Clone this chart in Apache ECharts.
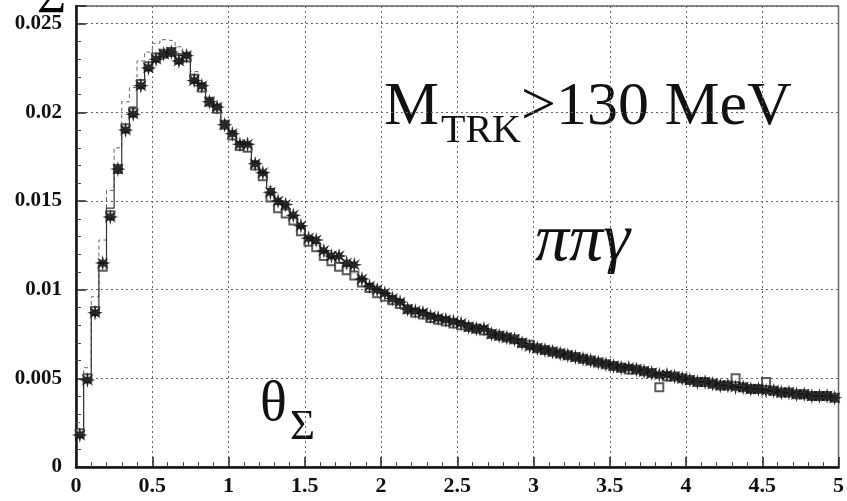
<!DOCTYPE html>
<html>
<head>
<meta charset="utf-8">
<script src="https://cdn.jsdelivr.net/npm/echarts@6/dist/echarts.min.js"></script>
<style>html,body{margin:0;padding:0;background:#fff;}#c{width:847px;height:501px;}</style>
</head>
<body>
<div id="c"></div>
<script>
// Histogram binning (x axis: 0..5, bins of 0.05)
const xMin = 0, xMax = 5, binWidth = 0.05;
const xTicks = ['0','0.5','1','1.5','2','2.5','3','3.5','4','4.5','5'];
const yTicks = ['0','0.005','0.01','0.015','0.02','0.025'];

// Data points (asterisk markers)
const dataPts = [
0.0018,0.0049,0.0087,0.0115,0.0141,0.0168,0.0190,0.0199,0.0215,0.0225,
0.0230,0.0233,0.0234,0.0229,0.0232,0.0218,0.0215,0.0206,0.0203,0.0193,
0.0188,0.0182,0.0182,0.0171,0.0166,0.0155,0.0150,0.0148,0.0142,0.0136,
0.0129,0.0128,0.0122,0.0119,0.0119,0.0115,0.0114,0.0106,0.0102,0.0100,
0.0098,0.0095,0.0093,0.0089,0.0088,0.0087,0.0085,0.0084,0.0083,0.0082,
0.0081,0.0079,0.0078,0.0078,0.0075,0.0074,0.0073,0.0072,0.0070,0.0068,
0.0067,0.0066,0.0065,0.0064,0.0063,0.0062,0.0061,0.0060,0.0059,0.0058,
0.0057,0.0056,0.0056,0.0055,0.0054,0.0053,0.0052,0.0052,0.0051,0.0050,
0.0049,0.0048,0.0048,0.0047,0.0046,0.0046,0.0045,0.0045,0.0044,0.0044,
0.0043,0.0043,0.0042,0.0042,0.0041,0.0041,0.0040,0.0040,0.0040,0.0039];

// Second sample (open squares)
const squarePts = [
0.0019,0.0050,0.0088,0.0113,0.0142,0.0168,0.0191,0.0200,0.0216,0.0226,
0.0231,0.0233,0.0234,0.0230,0.0231,0.0219,0.0214,0.0206,0.0202,0.0193,
0.0187,0.0181,0.0180,0.0170,0.0164,0.0152,0.0146,0.0143,0.0139,0.0133,
0.0127,0.0124,0.0119,0.0116,0.0113,0.0111,0.0108,0.0104,0.0101,0.0098,
0.0096,0.0094,0.0092,0.0089,0.0087,0.0086,0.0084,0.0083,0.0082,0.0081,
0.0080,0.0079,0.0078,0.0077,0.0075,0.0074,0.0073,0.0072,0.0070,0.0069,
0.0067,0.0066,0.0065,0.0064,0.0063,0.0062,0.0061,0.0060,0.0059,0.0058,
0.0057,0.0056,0.0055,0.0055,0.0054,0.0053,0.0045,0.0051,0.0051,0.0050,
0.0049,0.0048,0.0048,0.0047,0.0046,0.0046,0.0050,0.0045,0.0044,0.0044,
0.0048,0.0043,0.0042,0.0042,0.0041,0.0041,0.0040,0.0040,0.0040,0.0039];

// Simulation 1 (solid histogram)
const mcSolid = [
0.0020,0.0050,0.0088,0.0113,0.0146,0.0168,0.0192,0.0203,0.0218,0.0227,
0.0232,0.0234,0.0235,0.0233,0.0229,0.0221,0.0214,0.0207,0.0201,0.0194,
0.0188,0.0183,0.0178,0.0172,0.0165,0.0157,0.0150,0.0146,0.0140,0.0135,
0.0129,0.0125,0.0121,0.0118,0.0115,0.0112,0.0109,0.0105,0.0102,0.0099,
0.0097,0.0094,0.0092,0.0090,0.0088,0.0086,0.0084,0.0083,0.0082,0.0080,
0.0080,0.0079,0.0078,0.0077,0.0075,0.0074,0.0073,0.0072,0.0070,0.0069,
0.0067,0.0066,0.0065,0.0064,0.0063,0.0062,0.0061,0.0060,0.0059,0.0058,
0.0057,0.0056,0.0055,0.0055,0.0054,0.0053,0.0052,0.0051,0.0051,0.0050,
0.0049,0.0048,0.0048,0.0047,0.0046,0.0046,0.0045,0.0045,0.0044,0.0044,
0.0043,0.0043,0.0042,0.0042,0.0041,0.0041,0.0040,0.0040,0.0040,0.0039];

// Simulation 2 (dashed histogram)
const mcDashed = [
0.0025,0.0056,0.0096,0.0128,0.0156,0.0180,0.0206,0.0214,0.0229,0.0234,
0.0239,0.0241,0.0240,0.0237,0.0234,0.0223,0.0216,0.0208,0.0202,0.0195,
0.0189,0.0183,0.0178,0.0172,0.0166,0.0158,0.0151,0.0147,0.0141,0.0136,
0.0130,0.0126,0.0122,0.0118,0.0115,0.0112,0.0109,0.0106,0.0102,0.0100,
0.0097,0.0095,0.0093,0.0090,0.0088,0.0086,0.0085,0.0083,0.0082,0.0081,
0.0080,0.0079,0.0078,0.0077,0.0075,0.0074,0.0073,0.0072,0.0070,0.0069,
0.0067,0.0066,0.0065,0.0064,0.0063,0.0062,0.0061,0.0060,0.0059,0.0058,
0.0057,0.0056,0.0055,0.0055,0.0054,0.0053,0.0052,0.0051,0.0051,0.0050,
0.0049,0.0048,0.0048,0.0047,0.0046,0.0046,0.0045,0.0045,0.0044,0.0044,
0.0043,0.0043,0.0042,0.0042,0.0041,0.0041,0.0040,0.0040,0.0040,0.0039];

function centers(vals){ return vals.map((v,i)=>[xMin + (i+0.5)*binWidth, v]); }
function steps(vals){
  const d = vals.map((v,i)=>[xMin + i*binWidth, v]);
  d.push([xMax, vals[vals.length-1]]);
  return d;
}

const STAR = 'path://M100,50L68.5,57.65L85.35,85.35L57.65,68.5L50,100L42.35,68.5L14.65,85.35L31.5,57.65L0,50L31.5,42.35L14.65,14.65L42.35,31.5L50,0L57.65,31.5L85.35,14.65L68.5,42.35Z';

const serif = '"Liberation Serif", "Times New Roman", serif';
const chart = echarts.init(document.getElementById('c'), null, {renderer:'canvas'});
const gridLine = {show:true, lineStyle:{type:[2,3], color:'#666', width:1}};
chart.setOption({
  animation:false,
  backgroundColor:'#fff',
  grid:{left:76, right:3, top:6, bottom:34, show:true, borderColor:'#666', borderWidth:1.5, backgroundColor:'transparent'},
  xAxis:{
    type:'value', min:xMin, max:xMax, interval:0.5,
    axisLine:{show:true, onZero:false, lineStyle:{color:'#111', width:2.5}},
    axisTick:{show:true, inside:true, length:10, lineStyle:{color:'#222', width:1.5}},
    minorTick:{show:true, splitNumber:5, length:5, lineStyle:{color:'#444', width:1}},
    splitLine:gridLine,
    axisLabel:{fontFamily:serif, fontWeight:'bold', fontSize:22, color:'#111', margin:8,
      formatter:function(v){ const s = String(+v.toFixed(2)); return xTicks.indexOf(s)>=0 ? s : ''; }}
  },
  yAxis:{
    type:'value', min:0, max:0.026, interval:0.005,
    axisLine:{show:true, onZero:false, lineStyle:{color:'#111', width:2.5}},
    axisTick:{show:true, inside:true, length:10, lineStyle:{color:'#222', width:1.5}},
    minorTick:{show:true, splitNumber:5, length:5, lineStyle:{color:'#444', width:1}},
    splitLine:gridLine,
    axisLabel:{fontFamily:serif, fontWeight:'bold', fontSize:21, color:'#111', margin:14,
      formatter:function(v){ const s = String(+v.toFixed(3)); return yTicks.indexOf(s)>=0 ? s : ''; }}
  },
  series:[
    {type:'line', step:'end', data:steps(mcDashed), symbol:'none',
      lineStyle:{type:[4,3], width:1, color:'#666'}, z:2},
    {type:'line', step:'end', data:steps(mcSolid), symbol:'none',
      lineStyle:{width:1.2, color:'#333'}, z:3},
    {type:'scatter', data:centers(squarePts), symbol:'emptyRect', symbolSize:8,
      itemStyle:{color:'#333', borderColor:'#333', borderWidth:1}, z:4},
    {type:'scatter', data:centers(dataPts), symbol:STAR, symbolSize:16,
      itemStyle:{color:'#111', opacity:0.9}, z:5}
  ],
  graphic:[
    {type:'text', x:37, y:-1, style:{text:'Σ', font:'50px '+serif, fill:'#000', align:'left', verticalAlign:'middle'}},
    {type:'text', x:384, y:107.5, style:{text:'M', font:'62px '+serif, fill:'#111', align:'left', verticalAlign:'middle'}},
    {type:'text', x:441, y:131, style:{text:'TRK', font:'40px '+serif, fill:'#111', align:'left', verticalAlign:'middle'}},
    {type:'text', x:521, y:107.5, style:{text:'>130 MeV', font:'62px '+serif, fill:'#111', align:'left', verticalAlign:'middle'}},
    {type:'text', x:535, y:242, style:{text:'ππγ', font:'italic 68px '+serif, fill:'#111', align:'left', verticalAlign:'middle'}},
    {type:'text', x:260, y:405, style:{text:'θ', font:'56px '+serif, fill:'#111', align:'left', verticalAlign:'middle'}},
    {type:'text', x:290, y:428, style:{text:'Σ', font:'43px '+serif, fill:'#111', align:'left', verticalAlign:'middle'}}
  ]
});
</script>
</body>
</html>
